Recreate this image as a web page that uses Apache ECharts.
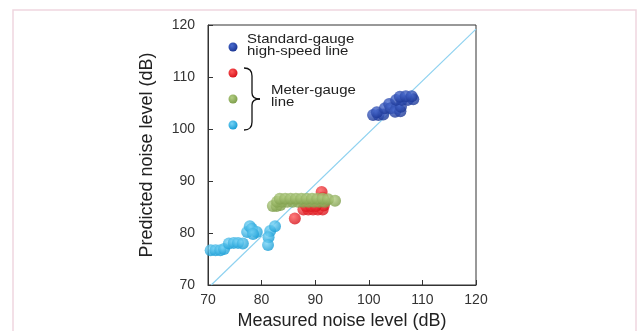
<!DOCTYPE html>
<html>
<head>
<meta charset="utf-8">
<script src="https://cdn.jsdelivr.net/npm/echarts@6/dist/echarts.min.js"></script>
<style>
  html, body { margin: 0; padding: 0; background: #fff; }
  #noise-chart { width: 640px; height: 331px; }
</style>
</head>
<body>
<div id="noise-chart"></div>
<script>
var axisTicks = [70, 80, 90, 100, 110, 120];

// standard-gauge high-speed line
var highSpeed = [
  [100.8, 102.7], [101.8, 102.7], [102.7, 102.8], [101.5, 103.2], [103.0, 104.0],
  [103.8, 104.8], [104.1, 104.0], [105.2, 104.0], [104.9, 103.3], [105.9, 103.4],
  [106.0, 104.3], [105.1, 105.6], [106.2, 105.6], [107.3, 105.6], [108.3, 105.7],
  [105.8, 106.2], [106.9, 106.3], [108.0, 106.3]
];

// meter-gauge line, three groups
var meterRed = [
  [91.2, 87.9], [91.4, 86.8], [87.8, 84.5], [88.7, 84.5], [89.6, 84.5], [90.5, 84.5],
  [91.4, 84.5], [91.6, 85.3], [88.3, 85.2], [89.2, 85.2], [90.1, 85.2], [86.2, 82.8]
];
var meterGreen = [
  [82.1, 85.2], [82.8, 85.2], [83.5, 85.4], [82.9, 86.0], [83.8, 86.0], [84.8, 86.0],
  [85.8, 86.0], [86.8, 86.0], [87.8, 86.0], [88.8, 86.0], [89.8, 86.0], [90.8, 86.0],
  [91.8, 86.0], [83.4, 86.6], [84.4, 86.6], [85.4, 86.6], [86.4, 86.6], [87.4, 86.6],
  [88.4, 86.6], [89.4, 86.6], [90.4, 86.6], [91.4, 86.6], [92.4, 86.5], [93.7, 86.2]
];
var meterCyan = [
  [70.5, 76.7], [71.4, 76.7], [72.3, 76.7], [73.0, 76.9], [73.9, 78.0], [74.8, 78.1],
  [75.6, 78.1], [76.5, 78.0], [77.3, 80.2], [77.8, 81.3], [78.2, 80.8], [79.1, 80.2],
  [78.4, 79.8], [81.6, 80.4], [81.3, 79.2], [81.2, 77.7], [82.5, 81.3]
];

var diagonal = [[70.6, 70], [120, 119.2]];

var chartDom = document.getElementById('noise-chart');
var myChart = echarts.init(chartDom);

function ball(light, dark) {
  return new echarts.graphic.RadialGradient(0.38, 0.35, 0.65, [
    { offset: 0, color: light },
    { offset: 1, color: dark }
  ]);
}

function scatter(data, light, dark) {
  return {
    type: 'scatter',
    data: data,
    symbolSize: 12,
    itemStyle: { color: ball(light, dark) },
    z: 3
  };
}

var blue = ['#4a6cd0', '#1c3795'];
var red = ['#ff5a5a', '#d8141c'];
var green = ['#b4cf84', '#7f9f4c'];
var cyan = ['#78d4f6', '#1a9ed6'];

var font = '"Liberation Sans", Arial, sans-serif';
var braceStyle = { fill: 'none', stroke: '#111', lineWidth: 1.3 };

var option = {
  animation: false,
  textStyle: { fontFamily: font },
  grid: {
    left: 208, right: 164, top: 25, bottom: 46,
    outerBoundsMode: 'none',
    show: true, borderColor: '#333', borderWidth: 1
  },
  xAxis: {
    type: 'value',
    min: 70, max: 120, interval: 10,
    name: 'Measured noise level (dB)',
    nameLocation: 'middle',
    nameGap: 26,
    nameTextStyle: { fontSize: 18, color: '#222' },
    axisLine: { lineStyle: { color: '#333' } },
    axisTick: { inside: true, length: 5, lineStyle: { color: '#333' } },
    axisLabel: { fontSize: 14, color: '#333', margin: 8 },
    splitLine: { show: false }
  },
  yAxis: {
    type: 'value',
    min: 70, max: 120, interval: 10,
    name: 'Predicted noise level (dB)',
    nameLocation: 'middle',
    nameGap: 52,
    nameTextStyle: { fontSize: 18, color: '#222' },
    axisLine: { lineStyle: { color: '#333' } },
    axisTick: { inside: true, length: 5, lineStyle: { color: '#333' } },
    axisLabel: { fontSize: 14, color: '#333', margin: 13 },
    splitLine: { show: false }
  },
  graphic: [
    {
      type: 'rect', silent: true,
      shape: { x: 13, y: 10, width: 623, height: 340 },
      style: { fill: 'none', stroke: '#efd6df', lineWidth: 1.5 }
    },
    { type: 'circle', shape: { cx: 233, cy: 47, r: 4.5 }, style: { fill: ball(blue[0], blue[1]) } },
    { type: 'circle', shape: { cx: 233, cy: 73, r: 4.5 }, style: { fill: ball(red[0], red[1]) } },
    { type: 'circle', shape: { cx: 233, cy: 99, r: 4.5 }, style: { fill: ball(green[0], green[1]) } },
    { type: 'circle', shape: { cx: 233, cy: 125, r: 4.5 }, style: { fill: ball(cyan[0], cyan[1]) } },
    {
      type: 'text', x: 247, y: 33, scaleX: 1.15,
      style: { text: 'Standard-gauge\nhigh-speed line', font: '13px ' + font, fill: '#222', lineHeight: 12 }
    },
    {
      type: 'text', x: 271, y: 84, scaleX: 1.15,
      style: { text: 'Meter-gauge\nline', font: '13px ' + font, fill: '#222', lineHeight: 12 }
    },
    // curly brace
    { type: 'bezierCurve', shape: { x1: 244, y1: 68, cpx1: 252, cpy1: 68, x2: 252, y2: 76 }, style: braceStyle },
    { type: 'line', shape: { x1: 252, y1: 76, x2: 252, y2: 93 }, style: braceStyle },
    { type: 'bezierCurve', shape: { x1: 252, y1: 93, cpx1: 252, cpy1: 99, x2: 260, y2: 99 }, style: braceStyle },
    { type: 'bezierCurve', shape: { x1: 260, y1: 99, cpx1: 252, cpy1: 99, x2: 252, y2: 105 }, style: braceStyle },
    { type: 'line', shape: { x1: 252, y1: 105, x2: 252, y2: 122 }, style: braceStyle },
    { type: 'bezierCurve', shape: { x1: 252, y1: 122, cpx1: 252, cpy1: 130, x2: 244, y2: 130 }, style: braceStyle }
  ],
  series: [
    {
      type: 'line',
      data: diagonal,
      symbol: 'none',
      lineStyle: { color: '#8fd2f0', width: 1.2 },
      z: 2
    },
    scatter(meterCyan, cyan[0], cyan[1]),
    scatter(meterRed, red[0], red[1]),
    scatter(meterGreen, green[0], green[1]),
    scatter(highSpeed, blue[0], blue[1])
  ]
};

myChart.setOption(option);
</script>
</body>
</html>
